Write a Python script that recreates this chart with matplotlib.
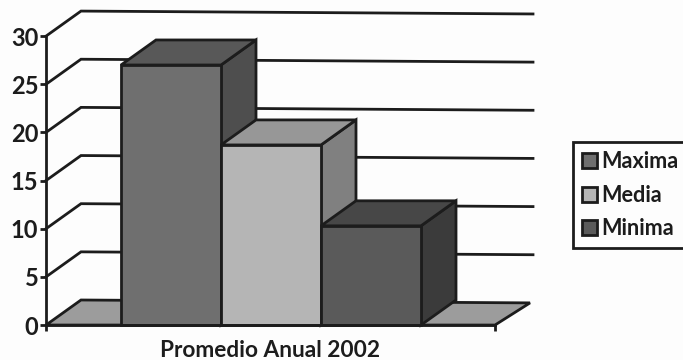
import matplotlib
matplotlib.use('Agg')
import matplotlib.pyplot as plt
from matplotlib.patches import Polygon, Patch

categories = ['Maxima', 'Media', 'Minima']
values = [27.0, 18.7, 10.3]
y_ticks = [0, 5, 10, 15, 20, 25, 30]
group_label = 'Promedio Anual 2002'

front_colors = ['#6f6f6f', '#b5b5b5', '#5a5a5a']
top_colors = ['#585858', '#979797', '#474747']
side_colors = ['#4e4e4e', '#808080', '#3b3b3b']
ink = '#1c1c1c'
lw = 2.0

# depth of the fake 3d, in data units
dx = 0.35
dy = 2.6
tilt = 0.3
x_end = 4.49
bar_width = 1.0
bar_start = 0.75

plt.rcParams['font.family'] = ['Lato', 'DejaVu Sans']
plt.rcParams['font.weight'] = 'bold'

fig = plt.figure(figsize=(6.83, 3.6), dpi=100, facecolor='#fdfdfd')
ax = fig.add_axes([0, 0, 1, 1], facecolor='none')
ax.set_xlim(-0.46, 6.37)
ax.set_ylim(-3.63, 33.75)

# floor
ax.add_patch(Polygon([(0, 0), (dx, dy), (x_end + dx, dy - tilt), (x_end, 0)],
                     closed=True, fc='#9c9c9c', ec=ink, lw=lw, zorder=1))

# back wall lines
for v in y_ticks[1:]:
    ax.plot([0, dx, x_end + dx + 0.03], [v, v + dy, v + dy - tilt],
            color=ink, lw=lw, zorder=1, solid_joinstyle='miter')

for i, v in enumerate(values):
    x0 = bar_start + i * bar_width
    x1 = x0 + bar_width
    ax.add_patch(Polygon([(x1, 0), (x1 + dx, dy), (x1 + dx, v + dy), (x1, v)],
                         closed=True, fc=side_colors[i], ec=ink, lw=lw, zorder=2 + i))
    ax.add_patch(Polygon([(x0, v), (x0 + dx, v + dy), (x1 + dx, v + dy), (x1, v)],
                         closed=True, fc=top_colors[i], ec=ink, lw=lw, zorder=2 + i))
    ax.add_patch(Polygon([(x0, 0), (x0, v), (x1, v), (x1, 0)],
                         closed=True, fc=front_colors[i], ec=ink, lw=lw, zorder=2 + i))

for s in ['top', 'right']:
    ax.spines[s].set_visible(False)
ax.spines['left'].set_position(('data', 0))
ax.spines['bottom'].set_position(('data', 0))
ax.spines['left'].set_bounds(0, 30)
ax.spines['bottom'].set_bounds(0, x_end)
for s in ['left', 'bottom']:
    ax.spines[s].set_linewidth(lw)
    ax.spines[s].set_color(ink)
    ax.spines[s].set_zorder(8)

ax.set_yticks(y_ticks)
ax.set_xticks([0, x_end])
ax.set_xticklabels(['', ''])
ax.tick_params(axis='both', length=4.5, width=lw, color=ink, direction='out')
ax.tick_params(axis='y', labelsize=17, labelcolor=ink, pad=1)

ax.text(2.24, -2.6, group_label, ha='center', va='center', fontsize=16.3,
        color=ink, fontweight='bold')

handles = [Patch(fc=c, ec=ink, lw=lw) for c in front_colors]
leg = ax.legend(handles, categories, loc='upper left', bbox_to_anchor=(0.839, 0.6056),
                fontsize=15.6, frameon=True, fancybox=False, edgecolor=ink,
                facecolor='#fdfdfd', framealpha=1, handlelength=0.69, handleheight=0.69,
                handletextpad=0.2, labelspacing=0.58, borderpad=0.42, borderaxespad=0,
                labelcolor=ink)
leg.get_frame().set_linewidth(lw)

fig.savefig('out.png', dpi=100, facecolor=fig.get_facecolor())
